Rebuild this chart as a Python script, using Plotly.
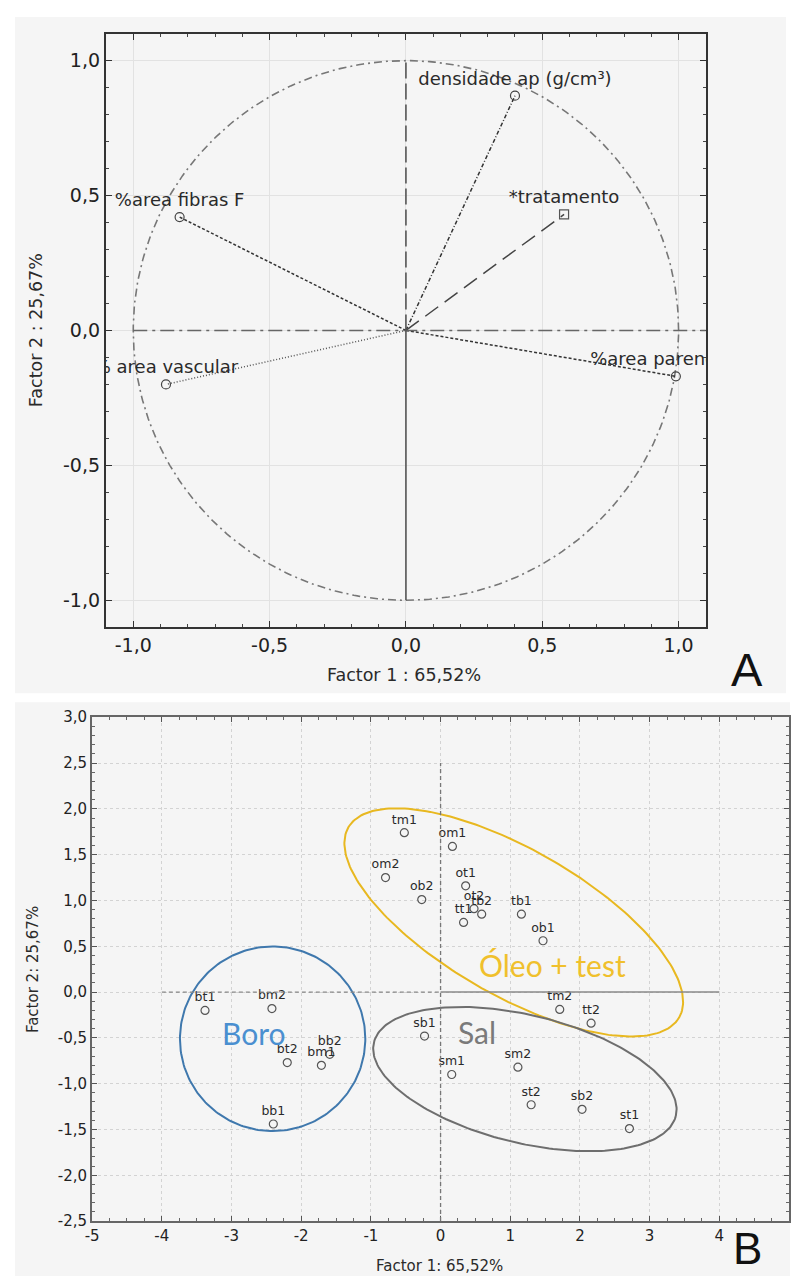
import numpy as np
import plotly.graph_objects as go

# ---------------- DATA ----------------
# Panel A : loadings (correlation circle)
var_names = ["%area fibras F", "densidade ap (g/cm³)", "% area vascular", "%area parenquima"]
var_f1 = [-0.83, 0.40, -0.88, 0.99]
var_f2 = [0.42, 0.87, -0.20, -0.17]

sup_names = ["*tratamento"]
sup_f1 = [0.58]
sup_f2 = [0.43]

a_tickvals = [-1.0, -0.5, 0.0, 0.5, 1.0]
a_ticktext = ["-1,0", "-0,5", "0,0", "0,5", "1,0"]

# Panel B : scores
obs_names = ["tm1", "om1", "om2", "ob2", "ot1", "ot2", "tb2", "tt1", "tb1", "ob1",
             "tm2", "tt2", "bt1", "bm2", "bt2", "bm1", "bb2", "bb1",
             "sb1", "sm1", "sm2", "st2", "sb2", "st1"]
obs_f1 = [-0.52, 0.17, -0.79, -0.27, 0.36, 0.48, 0.59, 0.33, 1.16, 1.47,
          1.71, 2.16, -3.38, -2.42, -2.20, -1.71, -1.59, -2.40,
          -0.23, 0.16, 1.11, 1.30, 2.03, 2.71]
obs_f2 = [1.74, 1.59, 1.25, 1.01, 1.16, 0.91, 0.85, 0.76, 0.85, 0.56,
          -0.19, -0.34, -0.20, -0.18, -0.77, -0.80, -0.68, -1.44,
          -0.48, -0.90, -0.82, -1.23, -1.28, -1.49]

b_xtickvals = [-5, -4, -3, -2, -1, 0, 1, 2, 3, 4, 5]
b_xticktext = ["-5", "-4", "-3", "-2", "-1", "0", "1", "2", "3", "4", "5"]
b_ytickvals = [-2.5, -2.0, -1.5, -1.0, -0.5, 0.0, 0.5, 1.0, 1.5, 2.0, 2.5, 3.0]
b_yticktext = ["-2,5", "-2,0", "-1,5", "-1,0", "-0,5", "0,0", "0,5", "1,0", "1,5", "2,0", "2,5", "3,0"]

# group ellipses (centre, semi-axes in x units, rotation in degrees)
grp_names = ["Boro", "Óleo + test", "Sal"]
grp_cx = [-2.41, 1.05, 1.21]
grp_cy = [-0.51, 0.76, -0.95]
grp_a = [1.33, 2.74, 2.23]
grp_b = [1.33, 1.05, 0.92]
grp_ang = [0.0, -30.0, -13.75]
grp_lx = [-2.68, 1.60, 0.52]
grp_ly = [-0.45, 0.29, -0.44]

# ---------------- LAYOUT GEOMETRY / STYLE ----------------
W, H = 791, 1285
def px(x): return x / W
def py(y): return 1 - y / H

A_X = (100, 706); A_Y = (25, 627)
B_X = (86, 790); B_Y = (718.3, 1229.3)
A_RANGE = (-1.1, 1.1)
B_XRANGE = (-5, 5); B_YRANGE = (-2.5, 3.0)

var_dash = ["3px,2px", "4px,2px,1px,2px", "1px,2px", "3px,2px"]
var_color = ["#333333", "#333333", "#555555", "#333333"]
grp_line = ["#3f78ad", "#e8b820", "#6e6e6e"]
grp_text = ["#4a8fd0", "#f0c02c", "#7a7a7a"]

FA = "DejaVu Sans, Arial, sans-serif"

fig = go.Figure()

# ---- Panel A ----
theta = np.linspace(0, 2 * np.pi, 361)
fig.add_trace(go.Scatter(x=np.cos(theta), y=np.sin(theta), mode="lines",
                         line=dict(color="#777777", width=1.6, dash="8px,4px,2px,4px"),
                         hoverinfo="skip", showlegend=False, xaxis="x", yaxis="y"))
for n, x, y, d, c in zip(var_names, var_f1, var_f2, var_dash, var_color):
    fig.add_trace(go.Scatter(x=[0, x], y=[0, y], mode="lines",
                             line=dict(color=c, width=1.5, dash=d),
                             hoverinfo="skip", showlegend=False, xaxis="x", yaxis="y"))
for n, x, y in zip(sup_names, sup_f1, sup_f2):
    fig.add_trace(go.Scatter(x=[0, x], y=[0, y], mode="lines",
                             line=dict(color="#444444", width=1.5, dash="16px,8px"),
                             hoverinfo="skip", showlegend=False, xaxis="x", yaxis="y"))
fig.add_trace(go.Scatter(x=var_f1, y=var_f2, mode="markers+text", text=var_names,
                         textposition="top center", cliponaxis=True,
                         textfont=dict(family=FA, size=18, color="#2a2a2a"),
                         marker=dict(symbol="circle-open", size=9, color="#444444", line=dict(width=1.2)),
                         showlegend=False, xaxis="x", yaxis="y"))
fig.add_trace(go.Scatter(x=sup_f1, y=sup_f2, mode="markers+text", text=sup_names,
                         textposition="top center", cliponaxis=True,
                         textfont=dict(family=FA, size=18, color="#2a2a2a"),
                         marker=dict(symbol="square-open", size=9, color="#555555", line=dict(width=1.2)),
                         showlegend=False, xaxis="x", yaxis="y"))

# ---- Panel B ----
ppx = (B_X[1] - B_X[0]) / (B_XRANGE[1] - B_XRANGE[0])
ppy = (B_Y[1] - B_Y[0]) / (B_YRANGE[1] - B_YRANGE[0])
ratio = ppx / ppy
t = np.linspace(0, 2 * np.pi, 241)
for cx, cy, a, b, ang, col in zip(grp_cx, grp_cy, grp_a, grp_b, grp_ang, grp_line):
    th = np.deg2rad(ang)
    ex = cx + a * np.cos(t) * np.cos(th) - b * np.sin(t) * np.sin(th)
    ey = cy + ratio * (a * np.cos(t) * np.sin(th) + b * np.sin(t) * np.cos(th))
    fig.add_trace(go.Scatter(x=ex, y=ey, mode="lines", line=dict(color=col, width=2),
                             hoverinfo="skip", showlegend=False, xaxis="x2", yaxis="y2"))
fig.add_trace(go.Scatter(x=obs_f1, y=obs_f2, mode="markers+text", text=obs_names,
                         textposition="top center",
                         textfont=dict(family=FA, size=12.5, color="#2a2a2a"),
                         marker=dict(symbol="circle-open", size=8, color="#555555", line=dict(width=1.2)),
                         showlegend=False, xaxis="x2", yaxis="y2"))

shapes = [
    # page backgrounds
    dict(type="rect", xref="paper", yref="paper", x0=px(8), x1=px(787), y0=py(694), y1=py(8),
         fillcolor="#f5f5f5", line=dict(width=0), layer="below"),
    dict(type="rect", xref="paper", yref="paper", x0=px(8), x1=px(791), y0=py(1285), y1=py(703),
         fillcolor="#f5f5f5", line=dict(width=0), layer="below"),
    # panel A reference axes
    dict(type="line", xref="x", yref="y", x0=-1.0, x1=A_RANGE[1], y0=0, y1=0,
         line=dict(color="#666666", width=1.6, dash="14px,5px,3px,5px")),
    dict(type="line", xref="x", yref="y", x0=0, x1=0, y0=0, y1=1.0,
         line=dict(color="#555555", width=1.6, dash="16px,5px")),
    dict(type="line", xref="x", yref="y", x0=0, x1=0, y0=-1.0, y1=0,
         line=dict(color="#555555", width=1.6)),
    # panel B reference axes
    dict(type="line", xref="x2", yref="y2", x0=-4, x1=0, y0=0, y1=0,
         line=dict(color="#888888", width=1.3, dash="4px,3px")),
    dict(type="line", xref="x2", yref="y2", x0=0, x1=4, y0=0, y1=0,
         line=dict(color="#888888", width=1.5)),
    dict(type="line", xref="x2", yref="y2", x0=0, x1=0, y0=-2.5, y1=2.5,
         line=dict(color="#777777", width=1.3, dash="4px,3px")),
]

def pann(x, y, text, size, family=FA, angle=0, color="#2a2a2a"):
    return dict(xref="paper", yref="paper", x=px(x), y=py(y), text=text, showarrow=False,
                xanchor="center", yanchor="middle", textangle=angle,
                font=dict(family=family, size=size, color=color))

annotations = [
    pann(401, 675, "Factor 1 : 65,52%", 17.5),
    pann(30, 326, "Factor 2 : 25,67%", 17.5, angle=-90),
    pann(437, 1275, "Factor 1: 65,52%", 15),
    pann(27, 974, "Factor 2: 25,67%", 15, angle=-90),
    pann(748, 670, "A", 47, family="Liberation Sans, Arial", color="#111111"),
    pann(748, 1257, "B", 44, family="Liberation Sans, Arial", color="#111111"),
]
for n, x, y, c in zip(grp_names, grp_lx, grp_ly, grp_text):
    annotations.append(dict(xref="x2", yref="y2", x=x, y=y, text=n, showarrow=False,
                            xanchor="center", yanchor="middle",
                            font=dict(family="Lato, Open Sans, sans-serif", size=30, color=c)))

axA = dict(showline=True, linewidth=2.2, linecolor="#333333", mirror="ticks",
           ticks="inside", ticklen=6, tickwidth=1.3, tickcolor="#333333",
           showgrid=True, gridcolor="#e2e2e2", gridwidth=1, zeroline=False,
           tickmode="array", tickvals=a_tickvals, ticktext=a_ticktext,
           tickfont=dict(family=FA, size=19, color="#222222"),
           minor=dict(tickmode="linear", tick0=0, dtick=0.1, ticks="inside", ticklen=3,
                      tickcolor="#444444", showgrid=False),
           range=list(A_RANGE), fixedrange=True)
axB = dict(showline=True, linewidth=2, linecolor="#666666", mirror="ticks",
           ticks="inside", ticklen=5, tickwidth=1.2, tickcolor="#555555",
           showgrid=True, gridcolor="#d3d3d3", gridwidth=1, griddash="dot", zeroline=False,
           tickmode="array", tickfont=dict(family=FA, size=15, color="#222222"),
           fixedrange=True)

fig.update_layout(
    width=W, height=H, autosize=False,
    margin=dict(l=0, r=0, t=0, b=0),
    paper_bgcolor="white", plot_bgcolor="white",
    showlegend=False,
    xaxis=dict(axA, domain=[px(A_X[0]), px(A_X[1])], anchor="y"),
    yaxis=dict(axA, domain=[py(A_Y[1]), py(A_Y[0])], anchor="x"),
    xaxis2=dict(axB, domain=[px(B_X[0]), px(B_X[1])], anchor="y2", range=list(B_XRANGE),
                tickvals=b_xtickvals, ticktext=b_xticktext,
                minor=dict(tickmode="linear", tick0=0, dtick=0.25, ticks="inside", ticklen=3,
                           tickcolor="#666666", showgrid=False)),
    yaxis2=dict(axB, domain=[py(B_Y[1]), py(B_Y[0])], anchor="x2", range=list(B_YRANGE),
                tickvals=b_ytickvals, ticktext=b_yticktext,
                minor=dict(tickmode="linear", tick0=0, dtick=0.1, ticks="inside", ticklen=3,
                           tickcolor="#666666", showgrid=False)),
    shapes=shapes, annotations=annotations,
)

fig.write_html("out.html", config={"displayModeBar": False},
               post_script="document.body.style.margin='0';document.body.style.overflow='hidden';")
